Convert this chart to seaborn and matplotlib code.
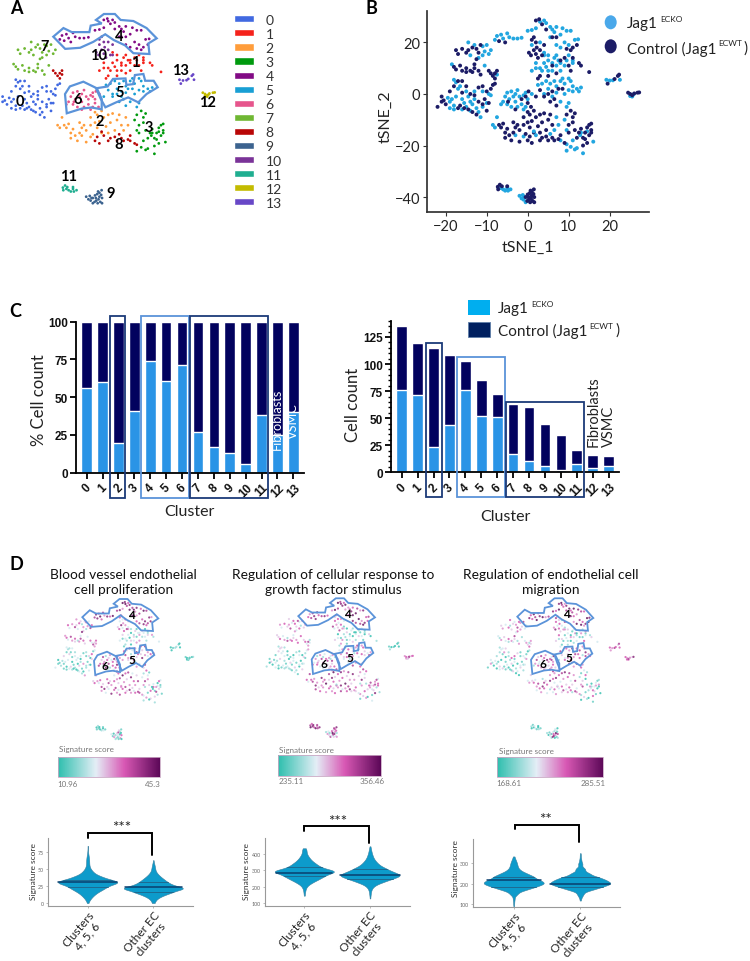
import numpy as np
import pandas as pd
import matplotlib
matplotlib.use("Agg")
import matplotlib.pyplot as plt
import seaborn as sns
from matplotlib.cm import ScalarMappable
from matplotlib.colors import LinearSegmentedColormap, Normalize
from matplotlib.lines import Line2D
from matplotlib.patches import Ellipse, Patch, Polygon, Rectangle

# -----------------------------
# Data: cells read from the tSNE map, as (tSNE_1, tSNE_2, score A, score B, score C)
# -----------------------------
c0_ecko = [(-19.5,-1.5,2,1,3),(-19,-3,1,3,2),(-18.5,-2,3,2,1),(-18,-4.5,0,1,4),(-18,-6,1,0,3),(-17.5,-1,3,4,0),(-17,2,4,3,1),(-17.5,4.5,2,4,3),(-18,5.5,3,2,2),(-16.5,3,1,3,5),(-16,-2,0,2,1),(-15.5,-3.5,1,1,3),(-15,-5,2,3,0),(-14.5,-1,3,0,2),(-14,-3,0,4,4),(-14,-6.5,1,2,1),(-13.5,-4,4,1,0),(-13,-2,2,3,3),(-13,1,3,0,6),(-12.5,-5.5,1,4,2),(-12,-7,0,2,3),(-11.5,-9,5,1,0),(-11,-5,2,0,4),(-11,1,1,3,1),(-10,-3.5,3,2,2),(-9.5,0,0,4,3),(-9,-0.5,4,1,5),(-16,-6,2,2,1),(-19,-5.5,1,3,0),(-15,1,3,1,2)]
c0_ctrl = [(-22,-5,3,2,1),(-21,-1,0,1,3),(-20.5,-2.5,1,4,2),(-20,-4,2,0,0),(-17,-5.5,3,1,4),(-16.5,-4.5,4,3,1),(-15.5,-5.5,0,2,3),(-16,0.5,1,3,0),(-15,3,2,0,2),(-14,0,3,1,6),(-13,-0.5,0,3,1),(-12,2.5,1,2,4),(-12,-3,5,1,0),(-11,-4,2,3,3),(-10.5,-2,1,0,1),(-10,-6.5,3,4,2),(-9,2,6,2,1),(-8.5,3.5,1,3,0),(-8,4,3,5,2),(-17,5,2,4,3),(-19,1,4,1,2),(-21,-3,1,0,5),(-14.5,-6,0,2,1),(-13.5,-7,3,1,4),(-12.5,-8,2,3,0),(-10,1,4,0,3),(-18,3,1,4,2),(-16,5,3,2,4),(-9.5,-3.5,0,3,3),(-11,3,2,1,1)]
c1_ecko = [(4,16,3,1,2),(5,15,2,0,4),(6.5,14,4,3,1),(7,15,1,2,3),(7.5,13,3,0,5),(8,12,5,3,2),(6,12,2,1,0),(5,13,0,4,3),(4,12,3,2,1),(2,12,4,0,6),(2,10,1,3,2),(3,10,3,1,4),(3.5,9,2,5,1),(4.5,10.5,0,2,3),(5,9,4,1,2),(6,9,3,3,0),(7,11,1,0,4),(8,9,5,2,3),(9,11,2,4,1),(9.5,13,3,1,5),(10,15,0,3,2),(11,12,4,0,3),(11,13,2,2,1),(1,9,3,4,4)]
c1_ctrl = [(9,14,4,2,3),(10,11,3,3,1),(11,14,1,1,5),(12.5,12,5,4,2),(13,11,2,0,4),(15,8.5,3,2,3),(3,7,2,5,1),(5,7,0,1,2),(6,11,4,3,5),(8,13,3,0,0),(2.5,6,1,2,3),(7,8,5,4,2),(10.5,9,2,1,6)]
c2_ecko = [(-8.5,-12,4,6,3),(-8,-13,6,3,5),(-7.5,-9,5,7,4),(-3,-16,3,5,6),(-1,-16.5,6,6,2),(7,-9,4,8,5),(7.5,-12,7,5,7),(6.5,-14,5,4,4)]
c2_ctrl = [(-7,-12,5,6,4),(-6.5,-13,3,7,6),(-6,-11.5,6,5,3),(-5.5,-15,7,8,5),(-5,-13.5,4,5,7),(-5.5,-17,5,7,3),(-4.5,-16,8,4,6),(-4,-18,3,6,5),(-3.5,-11,6,8,2),(-3,-13,7,5,7),(-2.5,-12,4,6,4),(-2,-14,5,9,6),(-2,-18.5,8,5,3),(-1,-12,6,4,8),(-1,-9,3,7,5),(-0.5,-15.5,7,6,4),(0,-11,5,8,6),(0,-7,8,5,7),(0.5,-13,4,6,3),(0.5,-8,6,9,5),(1,-10.5,7,4,8),(1.5,-6.5,3,7,4),(2,-9,9,6,6),(2.5,-12.5,5,5,3),(3,-8,6,8,7),(3.5,-11,4,6,5),(4,-7.5,7,5,8),(4.5,-14,5,9,4),(5,-10,8,4,6),(5.5,-8,3,7,7),(6,-12,6,5,3),(3,-15,7,8,6),(1.5,-15,5,6,5),(-3.5,-15,4,5,8)]
c3_ecko = [(9,-10,3,4,2),(9.5,-14,5,2,5),(11,-18,1,6,1),(12,-21,4,0,0),(12.8,-16,0,5,3),(13.5,-23,2,3,1),(13,-15,6,4,2),(14.5,-14.5,3,7,5),(16,-18.5,1,2,0),(10.5,-20.5,5,4,4),(9.5,-22,2,1,0),(11.5,-21.5,0,5,2)]
c3_ctrl = [(9.5,-8,2,5,1),(10.5,-6.5,6,7,3),(11,-9,3,3,6),(11.5,-7.5,1,6,2),(11,-11,5,4,0),(10,-12,7,8,4),(10,-15,2,5,7),(11.5,-14,4,2,1),(12.5,-15,0,6,5),(12,-17,6,4,2),(13,-13.5,3,7,0),(13.5,-17,1,3,6),(14,-15,5,5,3),(14.5,-19,2,8,1),(14,-17.5,7,4,4),(15,-16,4,2,0),(15.5,-14,1,6,5),(15.5,-11.5,3,3,2),(15,-12,6,7,1),(14.5,-13,0,5,3),(13.5,-20,4,1,6),(15.5,-15,2,6,0)]
c4_ecko = [(-8,21,7,6,8),(-7.5,22.5,8,5,6),(-6.5,23,6,7,9),(-6,21.5,9,8,7),(-5,23.5,7,9,6),(-4.5,22,5,6,8),(-3.5,21.5,8,7,9),(-2.5,21.5,6,8,5),(-1.5,21.8,9,6,7),(0,24.5,7,5,8),(1,24.8,8,9,6),(2,25.5,5,7,9),(3,28,9,8,7),(4,28.5,6,6,5),(4.5,27.5,8,9,8),(5.5,26,7,5,9),(6,25,9,7,6),(6.5,24,5,8,7),(7,26,8,6,9),(8,23,7,9,5),(8.5,25.5,6,7,8),(9.5,24.5,9,5,7),(10.5,24.5,7,8,6),(11.5,21,8,6,9),(12.3,21.2,5,7,8),(9,20,6,9,7),(10,19,8,5,6),(8,18,7,7,9),(7,19,6,8,5),(5.5,22,9,6,8)]
c4_ctrl = [(-7,20.5,8,7,6),(-5.5,20,6,8,9),(2,28.5,9,9,8),(2.8,29,8,7,9),(3.5,27,7,8,6),(6,22,9,6,8),(10.5,17,6,9,5),(9.5,17.5,8,7,9),(4.5,25,9,5,7),(11,18,7,8,8),(7,22,5,9,6),(12,19,8,6,9)]
c5_ecko = [(2.5,3.5,6,3,7),(3.5,4,4,5,3),(4.5,5,7,2,6),(5.5,4,3,6,5),(6.5,5,5,3,8),(7,3,8,4,4),(8,5,2,5,6),(8.5,6,6,7,3),(9,4,4,2,7),(10,6,7,5,5),(10.5,5,3,6,4),(11,3,5,4,8),(12,2,6,3,5),(12.5,1,4,7,6),(13,2.5,7,5,3),(11,1,3,4,7),(10,1.5,5,6,2),(9,0,8,3,6),(7,0.5,4,5,5),(6,-1,6,2,7),(5,2,2,7,4),(4,0,5,4,3),(8,-3,3,5,8),(10,-3.5,7,4,5),(9.5,-5,4,6,6)]
c5_ctrl = [(3,1.5,7,5,4),(4,-1,4,3,6),(5,0,8,6,5),(6,1,3,7,3),(7.5,2,6,2,7),(2,-1,5,4,2),(8.5,2,4,6,6),(5.5,-3,6,3,8),(6.5,-2,2,5,4),(7,-4.5,5,7,5)]
c6_ecko = [(-6,-3,6,3,5),(-5.5,-1,4,5,7),(-5,0.5,7,2,4),(-5,-4,3,6,6),(-4.5,-2,5,4,3),(-4,-5,8,3,5),(-4,1,2,5,7),(-3.5,-1,6,7,4),(-3,0,4,2,6),(-3,-3,7,5,3),(-2.5,1.5,5,3,5),(-2,-1,3,6,8),(-1.5,-4,6,4,4),(-1,-0.5,8,5,6),(-0.5,0.5,4,3,3),(0,-2,5,7,5),(-1,-6,3,4,7),(-6.5,-4,7,6,2),(1,0,5,2,6),(-0.5,-5,6,5,5),(-2.5,-5,2,3,4)]
c6_ctrl = [(-4.8,-3,7,5,3),(-1.5,-2,6,7,5),(-0.5,-1,4,2,7),(0,-3.5,8,4,6),(0.8,-5,5,6,4),(-3,-6,3,3,5),(0.2,1,6,5,8)]
c7_ecko = [(-14.5,20,5,4,6),(-13,19,4,6,3),(-11,18.5,6,3,5),(-10,19,3,5,7),(-10.5,16.5,5,2,4),(-9.5,15.5,7,4,3),(-11,15,2,6,5),(-12,14,4,3,6),(-9,17,6,5,2),(-14,15,3,7,4),(-18.5,11.5,5,4,3),(-10.5,11,3,6,2)]
c7_ctrl = [(-17.5,17,6,5,4),(-17,15.5,3,3,5),(-16,17.5,5,6,3),(-15,16,7,4,6),(-14.5,17,4,5,2),(-13.5,18,6,3,4),(-12.5,17.5,2,6,5),(-12,16,5,4,7),(-12.5,13.5,8,5,3),(-11.5,19,4,7,6),(-18,10.5,6,4,2),(-17.5,9.5,3,6,5),(-16.5,11,7,3,4),(-16,9,5,5,3),(-15,8.5,4,7,2),(-15,10,6,2,6),(-14,9,2,5,5),(-13.5,8.5,5,6,3),(-13,10,7,4,4),(-13,11.5,3,3,7),(-12,9,6,5,2),(-11.5,7.5,4,6,5)]
c8_ecko = [(-7.5,7.5,5,3,4),(2,-16,6,5,3),(5.5,-15.5,4,7,6),(8,-18,7,4,5),(9.5,-19.5,3,5,2),(1.5,-14.5,5,2,3)]
c8_ctrl = [(-9.5,9,6,4,3),(-9,8,3,6,5),(-8.5,7,7,3,4),(-8,6,5,5,6),(-8,8,4,7,2),(-7.5,9,6,2,5),(0,-18,5,5,3),(1,-19,7,6,5),(0.5,-16.5,3,4,6),(3,-18,6,7,4),(3.5,-17,4,3,7),(4.5,-16.5,8,5,3),(5,-18,5,6,5),(6,-17,3,8,6),(6.5,-18,6,4,2),(7.5,-17.5,7,5,7),(8,-16,4,6,3),(9,-19,5,3,5)]
c9_ecko = [(-2,-39.5,3,2,2),(-1.5,-40.5,1,5,0),(-1,-41,5,4,3),(-1.2,-39.2,0,3,1),(-0.5,-42,2,7,2),(-0.8,-40,4,1,4)]
c9_ctrl = [(-0.5,-40,2,3,1),(0,-39,4,6,3),(0.3,-41,1,7,8),(0.5,-38.5,7,4,2),(0.8,-40.5,3,8,5),(1,-39.5,0,5,9),(1.2,-41.5,5,3,1),(1,-38,2,6,3),(1.5,-37,1,8,0),(1.6,-40,6,2,7),(1.6,-42,0,5,2),(0.2,-40,3,9,6),(0.6,-42,1,4,0),(0.7,-37.5,4,7,3),(-0.1,-41.5,2,3,8),(1.4,-38.8,0,6,1)]
c10_ecko = [(4,15,5,4,5),(1,19,3,6,6),(3,20,6,5,2)]
c10_ctrl = [(1,21,6,4,7),(1.5,22,7,5,5),(2,20,3,6,4),(2.2,18,5,3,6),(1.5,17,8,5,3),(0.3,16,4,7,5),(0.8,15,6,3,8),(2,15.5,3,4,6),(3,17,5,6,3),(3.5,15,7,5,5),(4,19,4,3,7),(2.5,14,6,7,4)]
c11_ecko = [(-6.5,-36.5,1,8,0),(-6,-37,0,6,3),(-5.5,-37.5,2,9,1),(-5,-36.5,0,5,0),(-4.8,-37.5,3,7,2),(-4.2,-37,1,8,1)]
c11_ctrl = [(-7.3,-36,0,7,2),(-7.2,-37,1,9,0),(-6.8,-35.2,2,6,1),(-6.3,-35.8,0,8,3),(-5,-35.8,1,7,0)]
c12_ecko = [(25,-0.8,0,5,6),(25.5,-1,1,4,5),(25.8,-0.2,0,7,4)]
c12_ctrl = [(24.5,0.5,1,5,6),(25,0,0,6,5),(25.5,-0.5,2,4,7),(26,0.2,1,7,5),(26.8,0.5,0,5,4),(27.2,0.6,2,6,8)]
c13_ecko = [(19.2,5.5,0,1,6),(20,5.2,1,0,5),(20.8,5.3,2,1,7),(22.5,5.5,0,0,6)]
c13_ctrl = [(19.5,4,0,2,5),(22,7,1,0,4),(22.3,7.5,0,1,7),(21.2,5.8,2,0,6)]

ecko_lists = [c0_ecko, c1_ecko, c2_ecko, c3_ecko, c4_ecko, c5_ecko, c6_ecko, c7_ecko, c8_ecko, c9_ecko, c10_ecko, c11_ecko, c12_ecko, c13_ecko]
ctrl_lists = [c0_ctrl, c1_ctrl, c2_ctrl, c3_ctrl, c4_ctrl, c5_ctrl, c6_ctrl, c7_ctrl, c8_ctrl, c9_ctrl, c10_ctrl, c11_ctrl, c12_ctrl, c13_ctrl]

# cluster outlines on the tSNE map
outline_4 = [(-9.5,22.4),(-7.2,25.6),(-5.3,24.1),(-1.3,24.1),(-1,26.5),(1.5,27.3),(0.2,28.6),(2,30.8),(4.5,30.8),(5.8,28.6),(8.7,28.2),(11.7,25.6),(14,21.8),(12.1,19.9),(12.35,16),(8.7,16.3),(6.8,19.2),(4.2,21.2),(2.3,23.3),(-0.4,20.5),(-3.4,18.3),(-6.8,17.9)]
outline_5 = [(0.4,2.2),(3,2.9),(4.2,5.8),(7,6),(7.2,3.5),(8.7,3.8),(9.1,7.3),(11,7.7),(11.4,5.1),(13.3,5.1),(14.2,2.6),(11.7,0),(9.85,-3.2),(7.6,-1.3),(4.9,-3.2),(2.5,-5.1),(1.5,-2)]
outline_6 = [(-6.8,0),(-5.7,2.9),(-2.65,4.7),(0.4,2.2),(1.5,-1.9),(1.5,-5.8),(-0.8,-5.1),(-3,-5.5),(-6.4,-7.3)]

clusters = ["0", "1", "2", "3", "4", "5", "6", "7", "8", "9", "10", "11", "12", "13"]
cluster_colors = ["#4169e1", "#f5221b", "#ff9d3b", "#009a0e", "#820a85", "#199fd4", "#e6558c", "#6fb733", "#b90606", "#3c638f", "#7a3398", "#1fae90", "#c3bb00", "#6847c7"]

pct_total = [100, 100, 100, 100, 100, 100, 100, 100, 100, 100, 100, 100, 100, 100]
pct_ecko = [56, 60, 20, 41, 74, 61, 71, 27, 17, 13, 6, 38, 25, 40]
count_total = [135, 119, 115, 108, 103, 85, 72, 63, 60, 45, 34, 21, 16, 15]
count_ecko = [76, 71, 23, 44, 76, 52, 51, 17, 10, 6, 2, 8, 4, 6]

map_titles = ["Blood vessel endothelial\ncell proliferation", "Regulation of cellular response to\ngrowth factor stimulus", "Regulation of endothelial cell\nmigration"]
score_ranges = [("10.96", "45.3"), ("235.11", "356.46"), ("168.61", "285.51")]
stars = ["***", "***", "**"]
violin_names = ["Clusters\n4, 5, 6", "Other EC\nclusters"]

# violin values: score level and how many cells sit there, read from the widths
v1a_levels = [0, 4, 8, 12, 16, 20, 24, 28, 31, 34, 38, 42, 46, 50, 54, 58, 62, 66, 70, 74, 78, 84]
v1a_counts = [3, 8, 18, 30, 46, 70, 88, 105, 115, 90, 72, 36, 24, 13, 8, 7, 7, 6, 4, 2, 1, 1]
v1b_levels = [0, 4, 8, 12, 16, 20, 23, 27, 31, 35, 39, 43, 47, 51, 55, 59, 63]
v1b_counts = [6, 10, 24, 50, 85, 105, 115, 80, 60, 45, 30, 18, 10, 8, 6, 3, 1]
v2a_levels = [145, 165, 185, 205, 225, 245, 265, 285, 300, 320, 340, 360, 380, 400, 420, 435]
v2a_counts = [2, 3, 5, 11, 30, 55, 78, 95, 100, 62, 45, 28, 18, 10, 8, 5]
v2b_levels = [128, 150, 170, 190, 210, 230, 250, 270, 290, 310, 330, 350, 370, 390, 410, 430, 447]
v2b_counts = [1, 2, 3, 6, 16, 42, 70, 100, 70, 50, 30, 20, 12, 8, 5, 3, 1]
v3a_levels = [89, 105, 125, 150, 170, 185, 200, 215, 232, 248, 264, 280, 295, 310, 325, 332]
v3a_counts = [1, 2, 4, 16, 42, 70, 100, 88, 72, 45, 22, 13, 11, 8, 3, 1]
v3b_levels = [117, 135, 150, 170, 185, 200, 215, 230, 248, 270, 295, 315, 335, 348]
v3b_counts = [2, 5, 12, 40, 70, 100, 82, 62, 36, 20, 9, 4, 2, 1]

# -----------------------------
# Tables
# -----------------------------
rows = []
for i in range(14):
    for group, lists in (("Jag1 ECKO", ecko_lists), ("Control", ctrl_lists)):
        for x, y, a, b, c in lists[i]:
            rows.append({"tsne_1": x, "tsne_2": y, "cluster": clusters[i], "group": group, "s0": a, "s1": b, "s2": c})
cells = pd.DataFrame(rows)
bars = pd.DataFrame({"cluster": clusters, "pct_total": pct_total, "pct_ecko": pct_ecko,
                     "count_total": count_total, "count_ecko": count_ecko})

# -----------------------------
# Settings
# -----------------------------
sns.set_theme(style="ticks")
plt.rcParams["font.family"] = ["Lato", "DejaVu Sans"]
plt.rcParams["axes.unicode_minus"] = True

W, H = 750, 962
ECKO_BAR = "#2a94e6"
DARK_BAR = "#02025e"
OUTLINE = "#5b93d9"
NAVY = "#1b3a78"
sig_cmap = LinearSegmentedColormap.from_list(
    "signature", [(0, "#2fbfae"), (0.37, "#e4eef6"), (0.65, "#d858b4"), (1, "#5c0858")])

fig = plt.figure(figsize=(W / 100, H / 100), dpi=100, facecolor="white")


def px_axes(left, top, right, bottom):
    return fig.add_axes([left / W, 1 - bottom / H, (right - left) / W, (bottom - top) / H])


def tsne_limits(ax, rect, x0, y0, kx, ky):
    left, top, right, bottom = rect
    ax.set_xlim((left - x0) / kx, (right - x0) / kx)
    ax.set_ylim((y0 - bottom) / ky, (y0 - top) / ky)
    ax.axis("off")


overlay = fig.add_axes([0, 0, 1, 1], zorder=10)
overlay.set_xlim(0, W)
overlay.set_ylim(H, 0)
overlay.axis("off")


def label(x, y, s, size=9, **kw):
    kw.setdefault("ha", "center")
    kw.setdefault("va", "center")
    overlay.text(x, y, s, fontsize=size, **kw)


def fit_outline(pts, box, lw):
    # the outlines were pasted by hand, so each sits in its own box on each map
    xs, ys = zip(*pts)
    left, top, right, bottom = box
    px = [(left + (x - min(xs)) / (max(xs) - min(xs)) * (right - left),
           top + (max(ys) - y) / (max(ys) - min(ys)) * (bottom - top)) for x, y in pts]
    overlay.add_patch(Polygon(px, closed=True, fill=False, edgecolor=OUTLINE, linewidth=lw))


for letter, x, y in (("A", 16, 9), ("B", 371, 9), ("C", 15, 312), ("D", 16, 565)):
    label(x, y, letter, size=13, fontweight="bold", color="black")

# -----------------------------
# A: clusters
# -----------------------------
rect_a = (0, 0, 230, 215)
ax_a = px_axes(*rect_a)
sns.scatterplot(data=cells, x="tsne_1", y="tsne_2", hue="cluster", hue_order=clusters, palette=cluster_colors,
                s=4, linewidth=0, legend=False, ax=ax_a)
tsne_limits(ax_a, rect_a, 95, 95, 4.4, 2.6)
fit_outline(outline_4, (53.3, 15, 156.7, 55), 1.6)
fit_outline(outline_5, (96, 75, 157.7, 108.3), 1.6)
fit_outline(outline_6, (65, 82.7, 101.7, 114.3), 1.6)

a_labels = {"0": (20, 101.7), "1": (135, 63.3), "2": (99.3, 121.7), "3": (149, 127.7), "4": (119.3, 36.7),
            "5": (120, 92.7), "6": (77.7, 100), "7": (45, 47.3), "8": (118.3, 145), "9": (110.7, 194.3),
            "10": (98.3, 55.7), "11": (69, 177.3), "12": (207.3, 103.3), "13": (180.3, 71)}
for name, (x, y) in a_labels.items():
    label(x, y, name, size=10.5, fontweight="bold", color="black")

leg_a = fig.legend(handles=[Patch(facecolor=c, label=n) for n, c in zip(clusters, cluster_colors)],
                   loc="upper left", bbox_to_anchor=(224 / W, 1 - 5 / H), frameon=False, fontsize=10,
                   handlelength=1.45, handleheight=0.42, handletextpad=0.85, labelspacing=0.15, labelcolor="#333333",
                   borderpad=0.2)

# -----------------------------
# B: condition
# -----------------------------
ax_b = px_axes(427.3, 11.7, 649, 213.3)
sns.scatterplot(data=cells, x="tsne_1", y="tsne_2", hue="group", hue_order=["Jag1 ECKO", "Control"],
                palette=["#22a6e0", "#1c1c66"], s=8, linewidth=0, legend=False, ax=ax_b)
ax_b.set_xlim(-24.5, 29.6)
ax_b.set_ylim(-45.9, 32.3)
ax_b.set_xticks([-20, -10, 0, 10, 20])
ax_b.set_yticks([-40, -20, 0, 20])
ax_b.tick_params(labelsize=10.5, length=3, width=0.8, color="#333333", labelcolor="#222222", pad=2)
ax_b.set_xlabel("")
ax_b.set_ylabel("")
sns.despine(ax=ax_b)
for side in ("left", "bottom"):
    ax_b.spines[side].set_color("#333333")
label(527.7, 248.3, "tSNE_1", size=11.5, color="#222222")
label(386, 116.7, "tSNE_2", size=11.5, color="#222222", rotation=90)

overlay.add_patch(Ellipse((610.7, 23.3), 12, 14, facecolor="#4aa8ea", edgecolor="none"))
overlay.add_patch(Ellipse((610.7, 47.3), 12, 14, facecolor="#1c1c66", edgecolor="none"))
label(626.7, 24, "Jag1", size=11, ha="left", color="#222222")
label(660.5, 19, "ECKO", size=6, ha="left", color="#222222")
label(626.7, 49, "Control (Jag1", size=11, ha="left", color="#222222")
label(718, 44, "ECWT", size=6, ha="left", color="#222222")
label(743, 49, ")", size=11, ha="left", color="#222222")

# -----------------------------
# C: stacked bars
# -----------------------------
ax_c1 = px_axes(76, 322.7, 304, 473.7)
ax_c2 = px_axes(391, 321.7, 619.3, 473.3)
for ax, total, ecko in ((ax_c1, "pct_total", "pct_ecko"), (ax_c2, "count_total", "count_ecko")):
    sns.barplot(data=bars, x="cluster", y=total, order=clusters, color=DARK_BAR, saturation=1, width=0.67, ax=ax)
    sns.barplot(data=bars, x="cluster", y=ecko, order=clusters, color=ECKO_BAR, saturation=1, width=0.67, ax=ax)
    ax.set_xlim(-0.67, 13.67)
    ax.set_xlabel("")
    ax.set_ylabel("")
    sns.despine(ax=ax)
    for side in ("left", "bottom"):
        ax.spines[side].set_linewidth(1.3)
        ax.spines[side].set_color("black")
    ax.tick_params(axis="both", width=1.3, length=4, color="black", pad=2)
    plt.setp(ax.get_xticklabels(), fontfamily="Liberation Sans", fontweight="bold", fontsize=8.5, color="#111111",
             rotation=45, ha="center")

ax_c1.set_ylim(0, 100)
ax_c1.set_yticks([0, 25, 50, 75, 100])
ax_c2.set_ylim(0, 140)
ax_c2.set_yticks([0, 25, 50, 75, 100, 125])
ax_c2.set_yticks(np.arange(0, 141, 5), minor=True)
ax_c2.tick_params(axis="y", which="minor", width=1, length=2.5, color="black")
for ax in (ax_c1, ax_c2):
    plt.setp(ax.get_yticklabels(), fontfamily="Liberation Sans", fontweight="bold", fontsize=8.5, color="#111111")

for ax, x, w, y0, h, col in ((ax_c1, 1.47, 0.96, -17, 121, NAVY), (ax_c1, 3.44, 3, -17, 121, OUTLINE),
                             (ax_c1, 6.48, 4.94, -17, 121, NAVY), (ax_c2, 1.51, 1.01, -23, 142, NAVY),
                             (ax_c2, 3.5, 2.97, -23, 129.8, OUTLINE), (ax_c2, 6.56, 4.87, -23, 87.6, NAVY)):
    ax.add_patch(Rectangle((x, y0), w, h, fill=False, edgecolor=col, linewidth=1.3, clip_on=False, zorder=6))

label(39.3, 400, "% Cell count", size=12, rotation=90, color="#222222")
label(189, 511.7, "Cluster", size=11.5, color="#222222")
label(352.7, 405, "Cell count", size=12, rotation=90, color="#222222")
label(505, 516.7, "Cluster", size=11.5, color="#222222")
label(277.3, 419.3, "Fibroblasts", size=9.2, rotation=90, color="white")
label(293.3, 420.7, "VSMC", size=9.2, rotation=90, color="white")
label(594, 411.7, "Fibroblasts", size=10.5, rotation=90, color="#222222")
label(609.3, 426, "VSMC", size=10.5, rotation=90, color="#222222")

overlay.add_patch(Rectangle((468, 300.7), 22, 15.3, facecolor="#00aeef", edgecolor="none"))
overlay.add_patch(Rectangle((468, 322.7), 22, 15, facecolor="#002060", edgecolor="#5f7fa8", linewidth=0.6))
label(498, 309, "Jag1", size=11, ha="left", color="#222222")
label(531, 305, "ECKO", size=6, ha="left", color="#222222")
label(498, 331, "Control (Jag1", size=11, ha="left", color="#222222")
label(589, 327, "ECWT", size=6, ha="left", color="#222222")
label(615, 331, ")", size=11, ha="left", color="#222222")

# -----------------------------
# D: signature maps
# -----------------------------
map_rects = [(45, 600, 200, 745), (262, 600, 420, 745), (485, 600, 640, 745)]
map_scales = [(117, 659, 2.8, 1.93), (332, 658, 2.97, 1.9), (553, 659, 2.96, 1.9)]
title_x = [123.7, 333.3, 551]
num_labels = [((131, 615.7), (132, 660.7), (105.3, 666.7)),
              ((347, 615), (350, 658.3), (323.7, 664.3)),
              ((566, 615), (569.3, 658.7), (543, 664.7))]
outline_boxes = [((82.3, 600, 158.3, 632), (116, 645.7, 154.3, 671.7), (94, 652.7, 120, 676)),
                 ((298.3, 599.3, 375, 630.7), (335, 643.3, 373.3, 670), (311.7, 651, 339.3, 675)),
                 ((517.3, 599.3, 593.3, 631.7), (554.3, 644, 592.3, 670.7), (531, 651.7, 559.3, 675))]
bar_rects = [(58.3, 758.3, 160, 778.3), (278.3, 756, 380.7, 776.7), (497.3, 758.3, 603.3, 778.3)]
bar_title_x = [86, 306.7, 526]
bar_title_y = [750, 750.3, 751.7]
bar_lab_x = [(68, 153), (291, 371.7), (509.3, 592.7)]
bar_lab_y = [784.7, 781.7, 784]

for i in range(3):
    ax = px_axes(*map_rects[i])
    sns.scatterplot(data=cells, x="tsne_1", y="tsne_2", hue=f"s{i}", palette=sig_cmap, hue_norm=(0, 9),
                    s=2.5, linewidth=0, alpha=0.8, legend=False, ax=ax)
    tsne_limits(ax, map_rects[i], *map_scales[i])
    for pts, box in zip((outline_4, outline_5, outline_6), outline_boxes[i]):
        fit_outline(pts, box, 1.3)

    label(title_x[i], 582.5, map_titles[i], size=9.9, color="#111111", linespacing=1.25)
    for name, (x, y) in zip(("4", "5", "6"), num_labels[i]):
        label(x, y, name, size=8.5, fontweight="bold", color="black")

    cax = px_axes(*bar_rects[i])
    cbar = fig.colorbar(ScalarMappable(norm=Normalize(0, 1), cmap=sig_cmap), cax=cax, orientation="horizontal")
    cbar.set_ticks([])
    cbar.outline.set_edgecolor("#c9a8c4")
    cbar.outline.set_linewidth(0.6)
    label(bar_title_x[i], bar_title_y[i], "Signature score", size=5.8, color="#777777")
    for x, s in zip(bar_lab_x[i], score_ranges[i]):
        label(x, bar_lab_y[i], s, size=5.8, color="#777777")

# -----------------------------
# D: violins
# -----------------------------
violin_data = [((v1a_levels, v1a_counts), (v1b_levels, v1b_counts)),
               ((v2a_levels, v2a_counts), (v2b_levels, v2b_counts)),
               ((v3a_levels, v3a_counts), (v3b_levels, v3b_counts))]
violin_rects = [(48.3, 839.3, 192.7, 907.3), (265, 839.3, 410, 907.3), (473.3, 840, 620, 908.3)]
violin_centers = [(87.7, 153.3), (304.3, 370), (513.7, 580.3)]
violin_ylims = [(-4.8, 95), (80, 496), (84, 417)]
violin_ticks = [[0, 25, 50, 75], [100, 200, 300, 400], [100, 200, 300]]
ylabel_pos = [(33.3, 871.7), (247, 872), (455.7, 869)]
brackets = [((87.7, 839.3), 834, (152, 855.7), (121.7, 828)),
            ((304.3, 831.7), 827.3, (368.7, 844.3), (337.7, 821.7)),
            ((515.3, 830), 825.7, (579.3, 843.3), (545.3, 820))]

for i in range(3):
    frames = []
    for name, (levels, counts) in zip(violin_names, violin_data[i]):
        frames.append(pd.DataFrame({"group": name, "score": np.repeat(levels, counts)}))
    vdf = pd.concat(frames, ignore_index=True)

    ax = px_axes(*violin_rects[i])
    sns.violinplot(data=vdf, x="group", y="score", order=violin_names, color="#0d9bcb", saturation=1,
                   inner="quart", cut=0, width=0.9, bw_adjust=0.9, density_norm="width", linewidth=0.4,
                   linecolor="#3a7f9e", ax=ax)
    for j, line in enumerate(ax.lines):
        line.set_linestyle("-")
        line.set_color("#0a3f6e" if j % 3 == 1 else "#1f6288")
        line.set_linewidth(1.1 if j % 3 == 1 else 0.6)

    c0, c1 = violin_centers[i]
    spacing = c1 - c0
    left, _, right, _ = violin_rects[i]
    ax.set_xlim((left - c0) / spacing, (right - c0) / spacing)
    ax.set_ylim(*violin_ylims[i])
    ax.set_yticks(violin_ticks[i])
    ax.set_xlabel("")
    ax.set_ylabel("")
    ax.tick_params(axis="y", labelsize=3.8, length=1.5, width=0.4, color="#888888", labelcolor="#666666", pad=1.5)
    ax.tick_params(axis="x", length=1.5, width=0.4, color="#888888", pad=0)
    ax.set_xticks([0, 1])
    ax.set_xticklabels(violin_names, rotation=50, ha="right", rotation_mode="anchor", fontsize=8.6,
                       color="#222222", multialignment="center", linespacing=1.05)
    sns.despine(ax=ax)
    for side in ("left", "bottom"):
        ax.spines[side].set_color("#999999")
        ax.spines[side].set_linewidth(0.8)

    label(*ylabel_pos[i], "Signature score", size=6, rotation=90, color="#333333")

    (bx0, by0), top, (bx1, by1), star_pos = brackets[i]
    overlay.add_line(Line2D([bx0, bx0, bx1, bx1], [by0, top, top, by1], color="black", linewidth=1.4,
                            solid_joinstyle="miter"))
    label(*star_pos, stars[i], size=11, color="#222222")

fig.savefig("out.png", dpi=100)
